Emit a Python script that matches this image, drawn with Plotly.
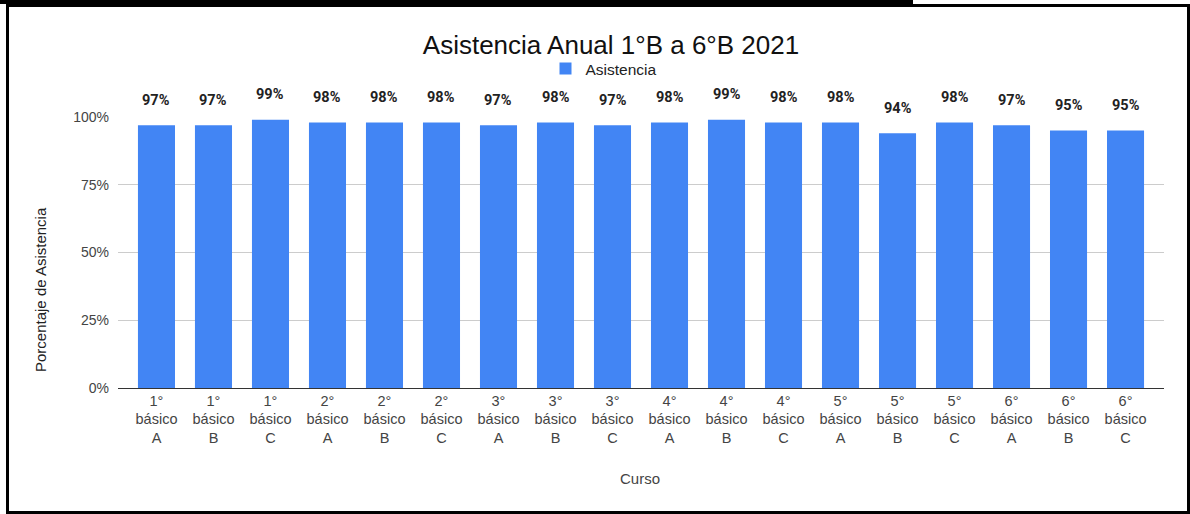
import plotly.graph_objects as go

categories = ["1°<br>básico<br>A", "1°<br>básico<br>B", "1°<br>básico<br>C",
              "2°<br>básico<br>A", "2°<br>básico<br>B", "2°<br>básico<br>C",
              "3°<br>básico<br>A", "3°<br>básico<br>B", "3°<br>básico<br>C",
              "4°<br>básico<br>A", "4°<br>básico<br>B", "4°<br>básico<br>C",
              "5°<br>básico<br>A", "5°<br>básico<br>B", "5°<br>básico<br>C",
              "6°<br>básico<br>A", "6°<br>básico<br>B", "6°<br>básico<br>C"]
asistencia = [0.97, 0.97, 0.99, 0.98, 0.98, 0.98, 0.97, 0.98, 0.97,
              0.98, 0.99, 0.98, 0.98, 0.94, 0.98, 0.97, 0.95, 0.95]
y_ticks = [0, 0.25, 0.5, 0.75, 1.0]
y_tick_labels = ["0%", "25%", "50%", "75%", "100%"]

W, H = 1190, 514
L, R, T, B = 118, 26, 117, 126
pw, ph = W - L - R, H - T - B

def px_x(x):
    return (x - L) / pw

def px_y(y):
    return (H - B - y) / ph

fig = go.Figure()
fig.add_trace(go.Bar(
    x=list(range(len(categories))), y=asistencia, name="Asistencia",
    marker=dict(color="#4285F4", line=dict(width=0)),
    hoverinfo="y",
))

annotations = []
for i, v in enumerate(asistencia):
    annotations.append(dict(
        x=i, y=v, xref="x", yref="y", text=f"{round(v*100)}%",
        showarrow=False, yshift=25, yanchor="middle",
        font=dict(family="Roboto", size=14.5, color="#222222", weight="bold"),
    ))

annotations.append(dict(
    text="Porcentaje de Asistencia", textangle=-90, showarrow=False,
    xref="paper", yref="paper", x=px_x(40), y=px_y(290),
    xanchor="center", yanchor="middle",
    font=dict(size=15, color="#222222"),
))
annotations.append(dict(
    text="Curso", showarrow=False,
    xref="paper", yref="paper", x=px_x(640), y=px_y(478),
    xanchor="center", yanchor="middle",
    font=dict(size=15, color="#444444"),
))

shapes = [
    dict(type="rect", xref="paper", yref="paper",
         x0=px_x(7.5), x1=px_x(1188.5), y0=px_y(512.5), y1=px_y(5.5),
         line=dict(color="#000000", width=3), fillcolor="rgba(0,0,0,0)", layer="above"),
    dict(type="rect", xref="paper", yref="paper",
         x0=px_x(0), x1=px_x(913), y0=px_y(4), y1=px_y(0),
         line=dict(width=0), fillcolor="#000000", layer="above"),
]

fig.update_layout(
    width=W, height=H,
    margin=dict(l=L, r=R, t=T, b=B, autoexpand=False),
    paper_bgcolor="white", plot_bgcolor="white",
    font=dict(family="Liberation Sans, Arial, sans-serif", size=14, color="#444444"),
    title=dict(text="Asistencia Anual 1°B a 6°B 2021", x=px_x(611), xanchor="center",
               y=1 - 45 / H, yanchor="middle", xref="paper", yref="container",
               font=dict(family="Liberation Sans, Arial, sans-serif", size=26, color="#111111")),
    showlegend=True,
    legend=dict(orientation="h", x=px_x(604), xanchor="center", y=px_y(69), yanchor="middle",
                font=dict(size=15.5, color="#222222"), bgcolor="rgba(0,0,0,0)"),
    bargap=0.35,
    xaxis=dict(
        tickmode="array", tickvals=list(range(len(categories))), ticktext=categories,
        range=[-0.675, len(categories) - 1 + 0.675],
        showgrid=False, zeroline=False, showline=False, ticks="",
        tickfont=dict(size=14.5, color="#444444"), ticklabelstandoff=2,
        fixedrange=True,
    ),
    yaxis=dict(
        range=[0, 1.0], tickmode="array", tickvals=y_ticks, ticktext=y_tick_labels,
        showgrid=True, gridcolor="#cccccc", gridwidth=1,
        zeroline=True, zerolinecolor="#333333", zerolinewidth=1,
        showline=False, ticks="", ticklabelstandoff=8,
        tickfont=dict(size=14, color="#444444"),
        fixedrange=True,
    ),
    annotations=annotations,
    shapes=shapes,
)

fig.write_html("out.html", config={"displayModeBar": False},
               post_script="document.body.style.margin='0px';")
